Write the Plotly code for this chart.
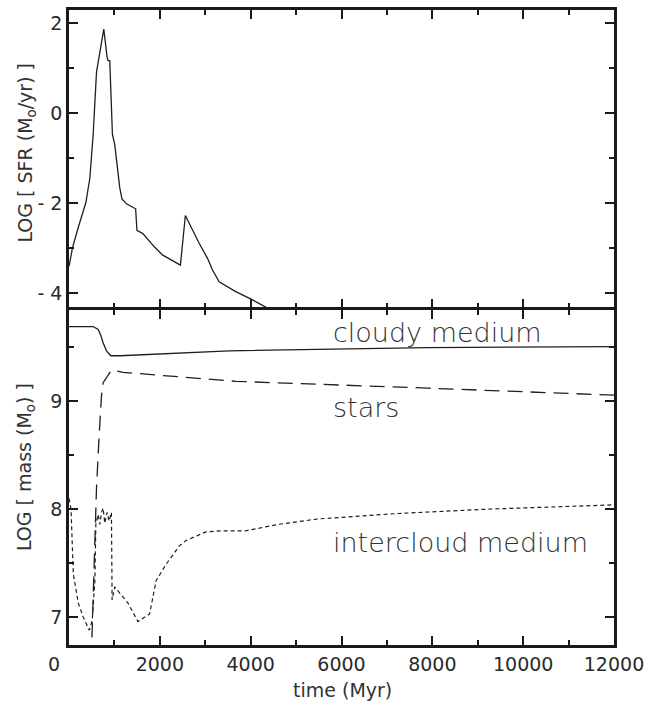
import plotly.graph_objects as go
from plotly.subplots import make_subplots

# ---- data ----
sfr_t = [0, 80, 205, 372, 460, 532, 606, 657, 766, 839, 860, 898, 920, 956, 1007,
         1117, 1167, 1263, 1467, 1496, 1627, 1883, 2065, 2453, 2562, 2686, 2868,
         3050, 3160, 3306, 3671, 4000, 4328, 4600]
sfr = [-3.40, -2.97, -2.53, -1.98, -1.43, -0.47, 0.92, 1.25, 1.87, 1.25, 1.17, 1.17,
       0.48, -0.47, -0.69, -1.65, -1.90, -2.01, -2.12, -2.60, -2.67, -2.97, -3.15,
       -3.37, -2.27, -2.53, -2.89, -3.22, -3.48, -3.74, -3.96, -4.12, -4.29, -4.45]

cloud_t = [0, 532, 642, 700, 751, 790, 825, 920, 1117, 3525, 7905, 12000]
cloud = [9.69, 9.69, 9.663, 9.61, 9.54, 9.49, 9.465, 9.42, 9.42, 9.465, 9.495, 9.505]

star_t = [490, 532, 570, 606, 665, 715, 752, 825, 935, 1190, 2300, 3679, 7905, 12000]
star = [6.60, 7.16, 7.77, 8.20, 8.69, 9.05, 9.17, 9.22, 9.287, 9.266, 9.229, 9.183,
        9.12, 9.055]

ic_t = [0, 45, 95, 205, 314, 445, 511, 570, 591, 642, 679, 715, 752, 788, 839, 883,
        934, 949, 1007, 1117, 1299, 1518, 1774, 1920, 2139, 2430, 2577, 3015, 3380,
        3890, 4620, 5496, 6591, 7248, 9218, 12000]
ic = [8.10, 8.00, 7.40, 7.13, 7.00, 6.88, 6.97, 7.34, 7.86, 7.95, 7.86, 7.97, 8.01,
      7.87, 7.97, 7.89, 7.97, 7.16, 7.28, 7.22, 7.13, 6.96, 7.03, 7.34, 7.49, 7.66,
      7.71, 7.79, 7.80, 7.80, 7.86, 7.91, 7.945, 7.96, 8.00, 8.04]

x_ticks = [2000, 4000, 6000, 8000, 10000, 12000]
x_ticktext = ["2000", "4000", "6000", "8000", "10000", "12000"]
x_zero_label = "0"
sfr_ticks = [-4, -2, 0, 2]
sfr_ticktext = ["- 4", "- 2", "0", "2"]
mass_ticks = [7, 8, 9]
mass_ticktext = ["7", "8", "9"]

labels = ["cloudy medium", "stars", "intercloud medium"]
label_x = [5760, 5760, 5760]
label_y = [9.633, 8.945, 7.69]

# ---- figure ----
W, H = 651, 706
ml, mr, mt, mb = 69, 34, 7, 61
pw, ph = W - ml - mr, H - mt - mb
LW = 2.5

fig = make_subplots(rows=2, cols=1, shared_xaxes=True, vertical_spacing=LW / ph,
                    row_heights=[300, 338])

LC = "#1e1e1e"
fig.add_trace(go.Scatter(x=sfr_t, y=sfr, mode="lines",
                         line=dict(color=LC, width=1.3)), row=1, col=1)
fig.add_trace(go.Scatter(x=cloud_t, y=cloud, mode="lines",
                         line=dict(color=LC, width=1.3)), row=2, col=1)
fig.add_trace(go.Scatter(x=star_t, y=star, mode="lines",
                         line=dict(color=LC, width=1.3, dash="15px,8px")), row=2, col=1)
fig.add_trace(go.Scatter(x=ic_t, y=ic, mode="lines",
                         line=dict(color=LC, width=1.2, dash="4px,3px")), row=2, col=1)

for txt, lx, ly in zip(labels, label_x, label_y):
    fig.add_annotation(x=lx, y=ly, xref="x2", yref="y2", text=txt, showarrow=False,
                       xanchor="left", yanchor="middle",
                       font=dict(family="DejaVu Sans", size=27, color="#333333",
                                 weight=200))

tickfont = dict(family="DejaVu Sans", size=19, color="#2a2a2a")
common_axis = dict(showline=True, linewidth=LW, linecolor="#1a1a1a", mirror="allticks",
                   ticks="inside", ticklen=9, tickwidth=1.5, tickcolor="#1a1a1a",
                   showgrid=False, zeroline=False)

fig.update_xaxes(range=[0, 12000], tickmode="array", tickvals=x_ticks,
                 ticktext=x_ticktext,
                 minor=dict(ticks="inside", ticklen=5, tickwidth=1.5, dtick=1000,
                            tick0=0, tickcolor="#1a1a1a", showgrid=False),
                 **common_axis)
fig.update_xaxes(showticklabels=False, row=1, col=1)
fig.update_xaxes(showticklabels=True, tickfont=tickfont, row=2, col=1)

fig.update_yaxes(range=[-4.31, 2.295], tickmode="array", tickvals=sfr_ticks,
                 ticktext=sfr_ticktext, tickfont=tickfont,
                 minor=dict(ticks="inside", ticklen=5, tickwidth=1.5, tickmode="array",
                            tickvals=[-3, -1, 1], tickcolor="#1a1a1a", showgrid=False),
                 row=1, col=1, **common_axis)
fig.update_yaxes(range=[6.743, 9.844], tickmode="array", tickvals=mass_ticks,
                 ticktext=mass_ticktext, tickfont=tickfont,
                 minor=dict(ticks="inside", ticklen=5, tickwidth=1.5, tickmode="array",
                            tickvals=[7.5, 8.5, 9.5], tickcolor="#1a1a1a", showgrid=False),
                 row=2, col=1, **common_axis)

# the "0" label sits left of the axis origin in the reference
fig.add_annotation(xref="paper", yref="paper", x=(54 - ml) / pw,
                   y=-(664 - (H - mb)) / ph, text=x_zero_label, showarrow=False,
                   xanchor="center", yanchor="middle", font=tickfont)

titlefont = dict(family="DejaVu Sans", size=19, color="#333333")
fig.add_annotation(xref="paper", yref="paper", x=(26 - ml) / pw,
                   y=1 - (150 - mt) / ph, text="LOG [ SFR (M<sub>o</sub>/yr) ]",
                   textangle=-90, showarrow=False, xanchor="center", yanchor="middle",
                   font=titlefont)
fig.add_annotation(xref="paper", yref="paper", x=(26 - ml) / pw,
                   y=1 - (466 - mt) / ph, text="LOG [ mass (M<sub>o</sub>) ]",
                   textangle=-90, showarrow=False, xanchor="center", yanchor="middle",
                   font=titlefont)
fig.add_annotation(xref="paper", yref="paper", x=(344 - ml) / pw,
                   y=-(690 - (H - mb)) / ph, text="time (Myr)", showarrow=False,
                   xanchor="center", yanchor="middle", font=titlefont)

fig.update_layout(width=W, height=H, margin=dict(l=ml, r=mr, t=mt, b=mb),
                  paper_bgcolor="white", plot_bgcolor="white", showlegend=False)

fig.write_html("out.html")
